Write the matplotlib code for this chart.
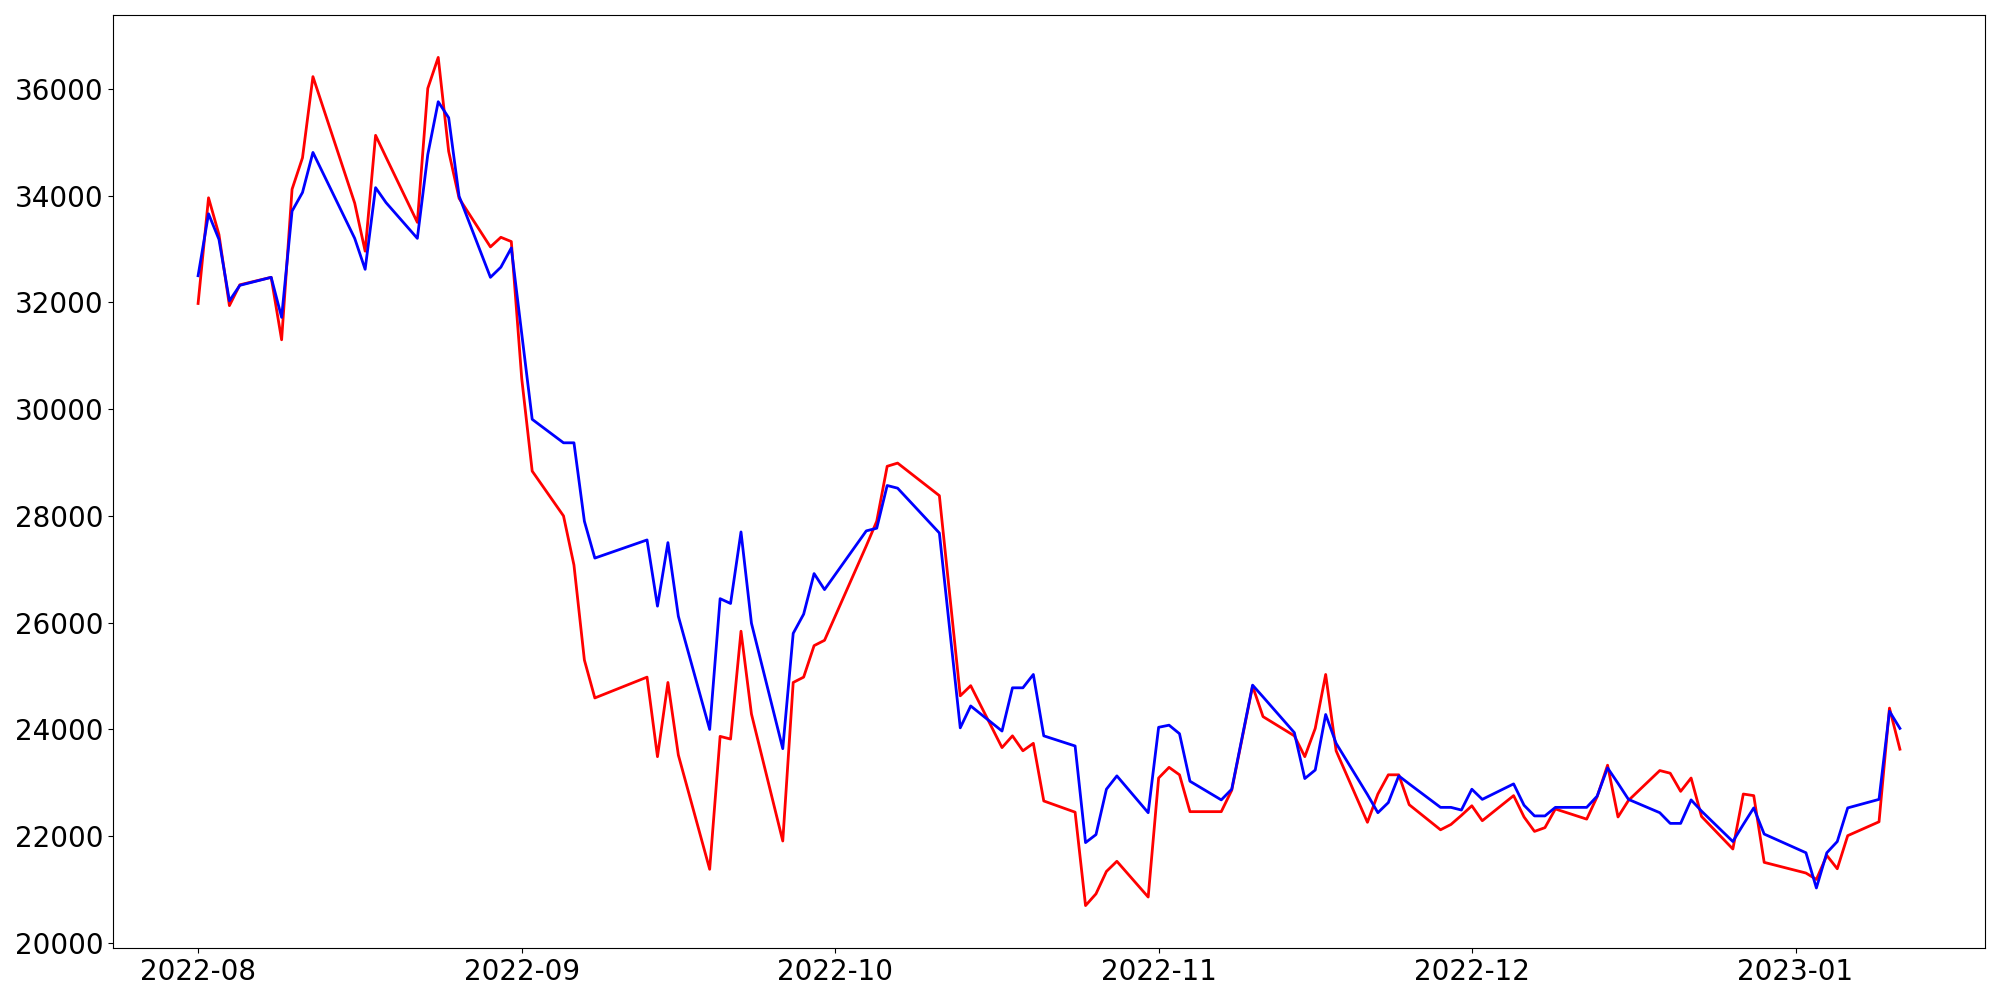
import matplotlib
matplotlib.use("Agg")
import matplotlib.pyplot as plt
import pandas as pd

dates = [
    "2022-08-01", "2022-08-02", "2022-08-03", "2022-08-04", "2022-08-05",
    "2022-08-08", "2022-08-09", "2022-08-10", "2022-08-11", "2022-08-12",
    "2022-08-16", "2022-08-17", "2022-08-18", "2022-08-19",
    "2022-08-22", "2022-08-23", "2022-08-24", "2022-08-25", "2022-08-26",
    "2022-08-29", "2022-08-30", "2022-08-31", "2022-09-01", "2022-09-02",
    "2022-09-05", "2022-09-06", "2022-09-07", "2022-09-08",
    "2022-09-13", "2022-09-14", "2022-09-15", "2022-09-16",
    "2022-09-19", "2022-09-20", "2022-09-21", "2022-09-22", "2022-09-23",
    "2022-09-26", "2022-09-27", "2022-09-28", "2022-09-29", "2022-09-30",
    "2022-10-04", "2022-10-05", "2022-10-06", "2022-10-07",
    "2022-10-11", "2022-10-13", "2022-10-14",
    "2022-10-17", "2022-10-18", "2022-10-19", "2022-10-20", "2022-10-21",
    "2022-10-24", "2022-10-25", "2022-10-26", "2022-10-27", "2022-10-28",
    "2022-10-31", "2022-11-01", "2022-11-02", "2022-11-03", "2022-11-04",
    "2022-11-07", "2022-11-08", "2022-11-10", "2022-11-11",
    "2022-11-14", "2022-11-15", "2022-11-16", "2022-11-17", "2022-11-18",
    "2022-11-21", "2022-11-22", "2022-11-23", "2022-11-24", "2022-11-25",
    "2022-11-28", "2022-11-29", "2022-11-30", "2022-12-01", "2022-12-02",
    "2022-12-05", "2022-12-06", "2022-12-07", "2022-12-08", "2022-12-09",
    "2022-12-12", "2022-12-13", "2022-12-14", "2022-12-15", "2022-12-16",
    "2022-12-19", "2022-12-20", "2022-12-21", "2022-12-22", "2022-12-23",
    "2022-12-26", "2022-12-27", "2022-12-28", "2022-12-29",
    "2023-01-02", "2023-01-03", "2023-01-04", "2023-01-05", "2023-01-06",
    "2023-01-09", "2023-01-10", "2023-01-11",
]

red_values = [
    31980, 33960, 33270, 31940, 32330,
    32470, 31300, 34120, 34710, 36230,
    33860, 32960, 35130, 34720,
    33500, 36010, 36590, 34830, 33950,
    33040, 33220, 33140, 30570, 28840,
    28000, 27080, 25300, 24590,
    24980, 23490, 24880, 23520,
    21380, 23870, 23820, 25840, 24290,
    21910, 24880, 24980, 25570, 25670,
    27440, 27900, 28930, 28990,
    28380, 24630, 24820,
    23660, 23880, 23600, 23740, 22660,
    22450, 20700, 20920, 21340, 21530,
    20860, 23090, 23290, 23150, 22460,
    22460, 22860, 24810, 24240,
    23880, 23490, 24020, 25030, 23600,
    22260, 22790, 23150, 23150, 22590,
    22120, 22220, 22390, 22570, 22290,
    22760, 22360, 22090, 22160, 22510,
    22320, 22740, 23330, 22360, 22670,
    23230, 23180, 22840, 23090, 22370,
    21760, 22790, 22760, 21510,
    21310, 21190, 21640, 21390, 22010,
    22270, 24400, 23630,
]

blue_values = [
    32500, 33660, 33180, 32030, 32320,
    32470, 31720, 33710, 34060, 34810,
    33200, 32620, 34150, 33870,
    33200, 34770, 35760, 35460, 33990,
    32470, 32660, 33020, 31410, 29810,
    29370, 29370, 27900, 27210,
    27550, 26310, 27500, 26120,
    24000, 26450, 26360, 27700, 25990,
    23640, 25800, 26160, 26920, 26620,
    27720, 27770, 28570, 28520,
    27680, 24030, 24440,
    23970, 24780, 24780, 25030, 23880,
    23690, 21880, 22030, 22880, 23130,
    22440, 24040, 24080, 23920, 23030,
    22680, 22880, 24830, 24610,
    23940, 23080, 23240, 24280, 23740,
    22780, 22440, 22630, 23130, 22980,
    22540, 22540, 22490, 22880, 22690,
    22980, 22580, 22380, 22380, 22540,
    22540, 22750, 23280, 22990, 22690,
    22440, 22240, 22240, 22680, 22470,
    21900, 22220, 22530, 22040,
    21690, 21030, 21690, 21900, 22530,
    22690, 24340, 24020,
]

df = pd.DataFrame({"red": red_values, "blue": blue_values},
                  index=pd.to_datetime(dates))

fig, ax = plt.subplots(figsize=(20, 10), dpi=100)
ax.plot(df.index, df["red"], color="red", linewidth=2)
ax.plot(df.index, df["blue"], color="blue", linewidth=2)

ax.tick_params(axis="both", labelsize=20)
fig.subplots_adjust(left=0.0565, right=0.9925, top=0.985, bottom=0.052)

fig.savefig("out.png", dpi=100)
